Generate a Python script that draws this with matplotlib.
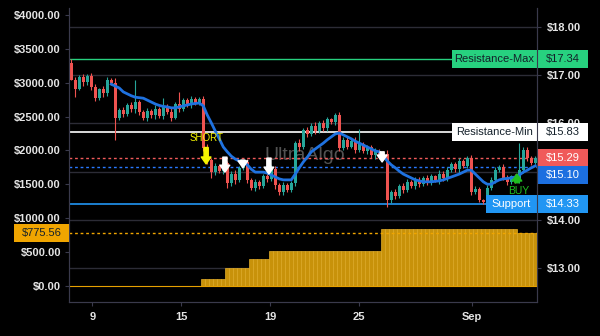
import matplotlib
matplotlib.use("Agg")
import matplotlib.pyplot as plt
import matplotlib.transforms as mtransforms
from matplotlib.patches import Rectangle

plt.rcParams['font.family'] = ['Liberation Sans', 'DejaVu Sans']

# свечи (правая ось, цена)
first_open = 17.25
closes = [16.90, 16.72, 16.95, 16.85, 16.98, 16.76, 16.52, 16.70, 16.62, 16.90,
          16.84, 16.11, 16.27, 16.20, 16.38, 16.30, 16.44, 16.23, 16.11, 16.25,
          16.17, 16.30, 16.15, 16.36, 16.24, 16.12, 16.40, 16.30, 16.48, 16.38,
          16.50, 16.42, 16.50, 15.49, 15.24, 14.99, 15.12, 15.02, 15.18, 14.77,
          14.95, 14.82, 15.08, 15.20, 14.83, 14.66, 14.78, 14.70, 14.91, 14.85,
          15.05, 14.72, 14.58, 14.72, 14.62, 14.76, 15.59, 15.50, 15.86, 15.78,
          15.95, 15.85, 16.00, 15.90, 16.08, 16.02, 16.17, 15.49, 15.66, 15.52,
          15.64, 15.45, 15.58, 15.42, 15.50, 15.34, 15.42, 15.30, 15.36, 14.41,
          14.58, 14.50, 14.70, 14.62, 14.79, 14.70, 14.83, 14.74, 14.87, 14.78,
          14.90, 14.82, 14.96, 14.86, 15.03, 15.15, 15.05, 15.22, 15.12, 15.28,
          14.58, 14.65, 14.41, 14.37, 14.66, 14.83, 15.03, 15.10, 14.87, 14.79,
          14.90, 14.82, 15.03, 15.45, 15.28, 15.18, 15.29]
# длина теней сверх тела
wicks = [0.00, 0.06, 0.04, 0.08, 0.05, 0.07, 0.05, 0.04, 0.08, 0.05,
         0.04, 0.10, 0.05, 0.07, 0.04, 0.06, 0.08, 0.05, 0.04, 0.06,
         0.05, 0.08, 0.04, 0.06, 0.05, 0.07, 0.04, 0.06, 0.05, 0.04,
         0.06, 0.05, 0.04, 0.06, 0.08, 0.05, 0.06, 0.04, 0.07, 0.05,
         0.06, 0.08, 0.04, 0.05, 0.07, 0.04, 0.06, 0.05, 0.04, 0.06,
         0.05, 0.07, 0.04, 0.06, 0.05, 0.04, 0.05, 0.08, 0.04, 0.06,
         0.05, 0.07, 0.04, 0.06, 0.05, 0.04, 0.05, 0.07, 0.05, 0.06,
         0.04, 0.07, 0.05, 0.04, 0.06, 0.05, 0.07, 0.04, 0.05, 0.08,
         0.05, 0.06, 0.04, 0.07, 0.05, 0.04, 0.06, 0.05, 0.04, 0.06,
         0.05, 0.04, 0.07, 0.05, 0.06, 0.04, 0.05, 0.07, 0.04, 0.05,
         0.06, 0.05, 0.04, 0.03, 0.06, 0.05, 0.07, 0.04, 0.05, 0.06,
         0.04, 0.05, 0.06, 0.06, 0.05, 0.04, 0.03]
wick_high = {0: 17.34, 16: 16.90, 23: 16.52, 27: 16.65, 50: 15.14, 72: 15.88, 112: 15.59}
wick_low = {1: 16.55, 11: 15.66, 35: 14.87, 39: 14.66, 45: 14.62, 52: 14.52, 79: 14.27, 103: 14.33}

# скользящая средняя (синяя линия)
ma_start = 10
ma_values = [16.81, 16.77, 16.73, 16.65, 16.61, 16.57, 16.54, 16.53, 16.52, 16.48,
             16.44, 16.40, 16.37, 16.35, 16.34, 16.32, 16.32, 16.34, 16.36, 16.38,
             16.40, 16.41, 16.42, 16.36, 16.17, 16.01, 15.84, 15.68, 15.51, 15.41,
             15.32, 15.26, 15.22, 15.20, 15.14, 15.05, 14.99, 14.99, 14.99, 14.97,
             14.93, 14.89, 14.85, 14.83, 14.83, 14.83, 14.95, 15.08, 15.20, 15.30,
             15.41, 15.47, 15.53, 15.59, 15.66, 15.72, 15.78, 15.80, 15.76, 15.72,
             15.68, 15.63, 15.59, 15.55, 15.51, 15.47, 15.43, 15.41, 15.32, 15.22,
             15.14, 15.08, 15.01, 14.95, 14.91, 14.87, 14.83, 14.81, 14.79, 14.79,
             14.79, 14.80, 14.81, 14.83, 14.86, 14.89, 14.92, 14.95, 14.99, 15.03,
             15.03, 14.95, 14.87, 14.79, 14.74, 14.74, 14.79, 14.83, 14.85, 14.86,
             14.87, 14.89, 14.93, 14.99, 15.03, 15.08, 15.12]

# прибыль (левая ось)
profit = [0.0] * 33 + [103.0] * 6 + [265.0] * 6 + [397.0] * 5 + [515.0] * 28 + [838.0] * 34 + [775.56] * 5

tick_pos = [5.25, 27.5, 49.75, 72.0, 100.1]
tick_labels = ['9', '15', '19', '25', 'Sep']

res_max = 17.34
res_min = 15.83
last_price = 15.29
ma_last = 15.10
support = 14.33
profit_last = 775.56

short_x = 33.7
exit_xs = [38.4, 42.9, 49.4, 77.7]
buy_x = 111.4

W, H = 600, 336
GRID = '#2c2c36'
SPINE = '#3a3a4c'
TXT = '#e4e4e4'

fig = plt.figure(figsize=(W / 100, H / 100), dpi=100, facecolor='black')
ax = fig.add_axes([69.3 / W, 1 - 302 / H, 468 / W, 294 / H])
ax2 = ax.twinx()
ax.set_zorder(ax2.get_zorder() + 1)
ax.patch.set_visible(False)
ax2.patch.set_facecolor('black')

n = len(closes)
opens = [first_open] + closes[:-1]

# свечи
for i in range(n):
    o, c = opens[i], closes[i]
    col = '#26a69a' if c >= o else '#ef5350'
    hi = wick_high.get(i, max(o, c) + wicks[i])
    lo = wick_low.get(i, min(o, c) - wicks[i])
    ax2.vlines(i, lo, hi, color=col, lw=0.8, zorder=3)
    ax2.bar(i, max(abs(c - o), 0.01), bottom=min(o, c), width=0.6, color=col, zorder=3)

ax2.plot(range(ma_start, n), ma_values, color='#1f72e0', lw=2.0, zorder=4)

# уровни
ax2.axhline(res_max, color='#27d17f', lw=1.0, zorder=2)
ax2.axhline(res_min, color='white', lw=1.2, zorder=2)
ax2.axhline(last_price, color='#f05a5a', lw=1.0, ls=(0, (2, 2)), zorder=2)
ax2.axhline(ma_last, color='#2979ff', lw=1.0, ls=(0, (2, 2)), zorder=2)
ax2.axhline(support, color='#2196f3', lw=1.2, zorder=2)

# прибыль
xs = [i for i in range(n) if profit[i] > 0]
ax.bar(xs, [profit[i] for i in xs], width=1.0, color='#c8920a', edgecolor='#e2ad2a', lw=0.5, zorder=2)
ax.axhline(0, color='#e6a000', lw=0.8, zorder=2)
ax.axhline(profit_last, color='#f0a500', lw=1.0, ls=(0, (2, 2)), zorder=2)

ax.set_xlim(-0.5, n - 0.5)
ax.set_ylim(-236, 4103)
ax2.set_ylim(12.303, 18.386)

ax.set_yticks(range(0, 4001, 500))
ax.set_yticklabels([f'${v}.00' for v in range(0, 4001, 500)])
ax2.set_yticks([13, 14, 15, 16, 17, 18])
ax2.set_yticklabels(['$13.00', '$14.00', '', '$16.00', '$17.00', '$18.00'])
ax.set_xticks(tick_pos)
ax.set_xticklabels(tick_labels)

ax2.grid(True, color=GRID, lw=1.0)
ax2.set_axisbelow(True)
ax.tick_params(axis='y', length=3, pad=3, labelsize=8, colors=SPINE, labelcolor=TXT)
ax.tick_params(axis='x', length=3, pad=4, labelsize=8, colors=SPINE, labelcolor=TXT)
ax2.tick_params(axis='y', length=3, pad=4, labelsize=8, colors=SPINE, labelcolor=TXT)
for lab in ax.get_xticklabels() + ax.get_yticklabels() + ax2.get_yticklabels():
    lab.set_fontweight('bold')
for a in (ax, ax2):
    for s in a.spines.values():
        s.set_color(SPINE)
    a.spines['top'].set_visible(False)

ax2.text(0.504, 0.5, 'UltraAlgo', transform=ax2.transAxes, ha='center', va='center',
         fontsize=14, color='#8a8a8a', alpha=0.6, zorder=1)


def arrow(x, tail, tip, color):
    ax2.annotate('', xy=(x, tip), xytext=(x, tail), zorder=6,
                 arrowprops=dict(arrowstyle='simple,head_length=0.5,head_width=0.7,tail_width=0.3',
                                 fc=color, ec=color, shrinkA=0, shrinkB=0))


arrow(short_x, 15.50, 15.16, '#f5f500')
ax2.text(short_x, 15.70, 'SHORT', color='#f5f500', fontsize=7, ha='center', va='center', zorder=6)
for x, (tail, tip) in zip(exit_xs, [(15.30, 14.99), (15.24, 15.08), (15.28, 14.95), (15.41, 15.20)]):
    arrow(x, tail, tip, 'white')
arrow(buy_x, 14.77, 14.95, '#20c020')
ax2.text(buy_x + 0.5, 14.60, 'BUY', color='#20c020', fontsize=7.5, ha='center', va='center', zorder=6)


def label_box(a, x0, x1, y, h, text, bg, fg):
    trans = mtransforms.blended_transform_factory(a.transAxes, a.transData)
    a.add_patch(Rectangle((x0, y - h / 2), x1 - x0, h, transform=trans, facecolor=bg,
                          edgecolor='none', clip_on=False, zorder=7))
    a.text((x0 + x1) / 2, y, text, transform=trans, ha='center', va='center', color=fg,
           fontsize=8, clip_on=False, zorder=8)


ph = 0.372  # 18 px по правой оси
label_box(ax2, 0.8177, 0.9994, res_max, ph, 'Resistance-Max', '#27d17f', '#14202a')
label_box(ax2, 0.8177, 0.9994, res_min, ph, 'Resistance-Min', 'white', '#14202a')
label_box(ax2, 0.890, 0.9994, support, ph, 'Support', '#2196f3', 'white')
label_box(ax2, 1.0015, 1.108, res_max, ph, '$17.34', '#27d17f', '#14202a')
label_box(ax2, 1.0015, 1.108, res_min, ph, '$15.83', 'white', '#14202a')
label_box(ax2, 1.0015, 1.108, last_price, ph, f'${last_price:.2f}', '#f05a5a', 'white')
label_box(ax2, 1.0015, 1.108, ma_last - 0.16, ph, f'${ma_last:.2f}', '#1c6fe0', 'white')
label_box(ax2, 1.0015, 1.108, support, ph, f'${support:.2f}', '#2196f3', 'white')
label_box(ax, -0.118, 0.0, profit_last, 266, f'${profit_last:.2f}', '#f0a500', '#14202a')

fig.savefig('out.png', dpi=100, facecolor='black')
